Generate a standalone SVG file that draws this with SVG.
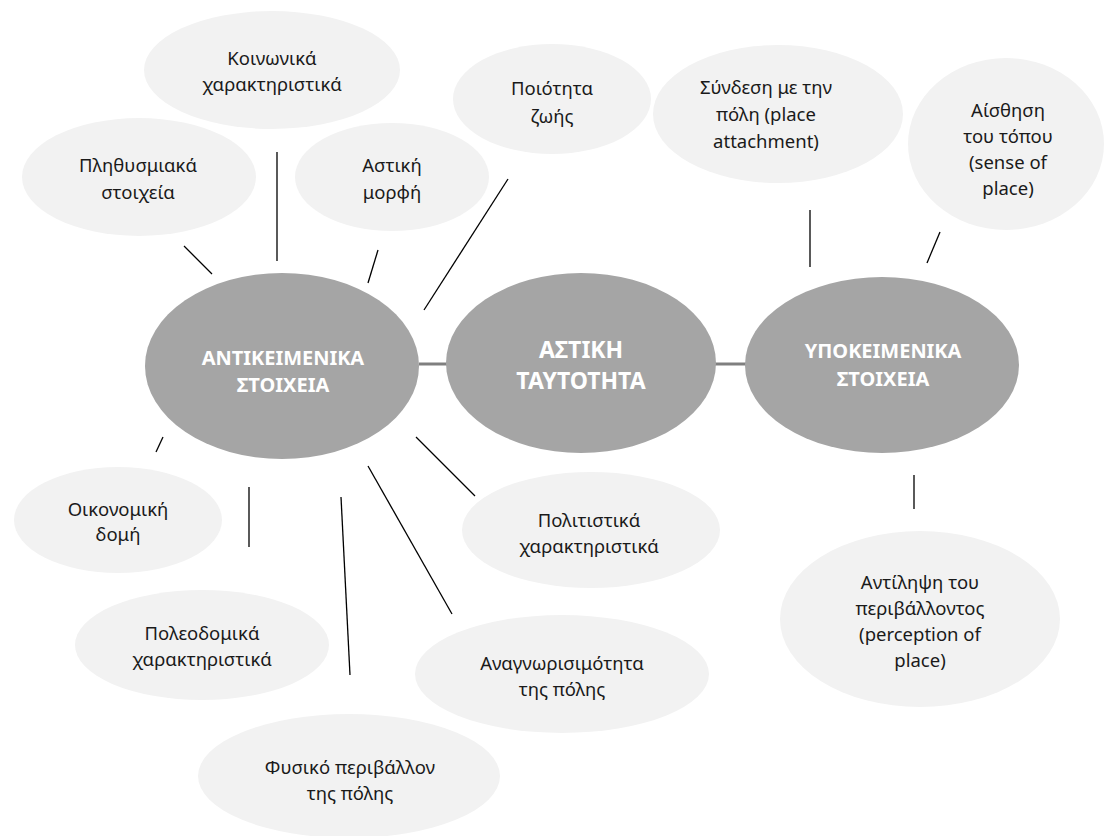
<svg xmlns="http://www.w3.org/2000/svg" width="1108" height="836" viewBox="0 0 1108 836">
<style>
.core{fill:#a5a5a5}
.leaf{fill:#f2f2f2}
.ct{font-family:"Noto Sans","Open Sans",sans-serif;font-weight:bold;fill:#ffffff;text-anchor:middle}
.lt{font-family:"Noto Sans","Open Sans",sans-serif;font-size:18.5px;fill:#1a1a1a;text-anchor:middle}
.ln{stroke:#000;stroke-width:1.3;fill:none}
.lk{stroke:#7f7f7f;stroke-width:3;fill:none}
</style>
<rect width="1108" height="836" fill="#ffffff"/>
<g id="connectors">
<line class="lk" x1="419" y1="364" x2="447" y2="364"/>
<line class="lk" x1="715" y1="364" x2="746" y2="364"/>
<line class="ln" x1="184" y1="246" x2="212" y2="274"/>
<line class="ln" x1="277" y1="152" x2="277" y2="261"/>
<line class="ln" x1="378" y1="250" x2="368" y2="283"/>
<line class="ln" x1="508" y1="179" x2="424" y2="310"/>
<line class="ln" x1="810" y1="210" x2="810" y2="267"/>
<line class="ln" x1="940" y1="232" x2="927" y2="263"/>
<line class="ln" x1="914" y1="475" x2="914" y2="509"/>
<line class="ln" x1="416" y1="437" x2="475" y2="496"/>
<line class="ln" x1="368" y1="466" x2="452" y2="614"/>
<line class="ln" x1="341" y1="497" x2="350" y2="675"/>
<line class="ln" x1="249" y1="487" x2="249" y2="547"/>
<line class="ln" x1="163" y1="437" x2="156" y2="452"/>
</g>
<g id="antikeimenika">
<ellipse class="core" cx="282" cy="366" rx="137" ry="93"/>
<text class="ct" font-size="20" x="283" y="365">ΑΝΤΙΚΕΙΜΕΝΙΚΑ</text>
<text class="ct" font-size="20" x="283" y="392">ΣΤΟΙΧΕΙΑ</text>
</g>
<g id="astiki">
<ellipse class="core" cx="581" cy="363" rx="135" ry="90"/>
<text class="ct" font-size="23" x="581" y="358">ΑΣΤΙΚΗ</text>
<text class="ct" font-size="23" x="581" y="389">ΤΑΥΤΟΤΗΤΑ</text>
</g>
<g id="ypokeimenika">
<ellipse class="core" cx="882" cy="365" rx="137" ry="88"/>
<text class="ct" font-size="20" x="883" y="358">ΥΠΟΚΕΙΜΕΝΙΚΑ</text>
<text class="ct" font-size="20" x="883" y="386">ΣΤΟΙΧΕΙΑ</text>
</g>
<g id="koinonika">
<ellipse class="leaf" cx="272" cy="70" rx="128" ry="59"/>
<text class="lt" x="272" y="65">Κοινωνικά</text>
<text class="lt" x="272" y="91">χαρακτηριστικά</text>
</g>
<g id="plithysmiaka">
<ellipse class="leaf" cx="139" cy="177" rx="117" ry="59"/>
<text class="lt" x="138" y="172">Πληθυσμιακά</text>
<text class="lt" x="138" y="199">στοιχεία</text>
</g>
<g id="astiki-morfi">
<ellipse class="leaf" cx="392" cy="177" rx="97" ry="54"/>
<text class="lt" x="392" y="172">Αστική</text>
<text class="lt" x="392" y="199">μορφή</text>
</g>
<g id="poiotita">
<ellipse class="leaf" cx="552" cy="99" rx="99" ry="55"/>
<text class="lt" x="552" y="95">Ποιότητα</text>
<text class="lt" x="552" y="123">ζωής</text>
</g>
<g id="syndesi">
<ellipse class="leaf" cx="778" cy="114" rx="125" ry="69"/>
<text class="lt" x="766" y="94">Σύνδεση με την</text>
<text class="lt" x="766" y="121">πόλη (place</text>
<text class="lt" x="766" y="148">attachment)</text>
</g>
<g id="aisthisi">
<ellipse class="leaf" cx="1006" cy="144" rx="98" ry="86"/>
<text class="lt" x="1008" y="117">Αίσθηση</text>
<text class="lt" x="1008" y="143">του τόπου</text>
<text class="lt" x="1008" y="169">(sense of</text>
<text class="lt" x="1008" y="195">place)</text>
</g>
<g id="antilipsi">
<ellipse class="leaf" cx="920" cy="619" rx="140" ry="88"/>
<text class="lt" x="920" y="589">Αντίληψη του</text>
<text class="lt" x="920" y="615">περιβάλλοντος</text>
<text class="lt" x="920" y="641">(perception of</text>
<text class="lt" x="920" y="667">place)</text>
</g>
<g id="politistika">
<ellipse class="leaf" cx="591" cy="530" rx="129" ry="58"/>
<text class="lt" x="589" y="527">Πολιτιστικά</text>
<text class="lt" x="589" y="553">χαρακτηριστικά</text>
</g>
<g id="anagnorisimotita">
<ellipse class="leaf" cx="562" cy="674" rx="147" ry="59"/>
<text class="lt" x="562" y="670">Αναγνωρισιμότητα</text>
<text class="lt" x="562" y="696">της πόλης</text>
</g>
<g id="fysiko">
<ellipse class="leaf" cx="349" cy="776" rx="151" ry="62"/>
<text class="lt" x="350" y="774">Φυσικό περιβάλλον</text>
<text class="lt" x="350" y="800">της πόλης</text>
</g>
<g id="poleodomika">
<ellipse class="leaf" cx="202" cy="645" rx="127" ry="55"/>
<text class="lt" x="202" y="640">Πολεοδομικά</text>
<text class="lt" x="202" y="666">χαρακτηριστικά</text>
</g>
<g id="oikonomiki">
<ellipse class="leaf" cx="118" cy="520" rx="104" ry="53"/>
<text class="lt" x="118" y="516">Οικονομική</text>
<text class="lt" x="118" y="541">δομή</text>
</g>
</svg>
